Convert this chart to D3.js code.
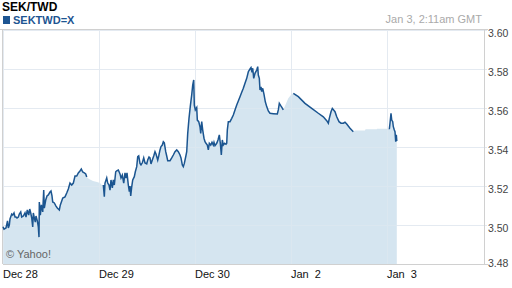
<!DOCTYPE html>
<html>
<head>
<meta charset="utf-8">
<script src="https://cdn.jsdelivr.net/npm/d3@7"></script>
<style>
  body { margin: 0; background: #fff; }
  svg { display: block; font-family: "Liberation Sans", Arial, sans-serif; }
</style>
</head>
<body>
<svg id="chart" width="512" height="288"></svg>
<script>
// hours since Dec 28 00:00 GMT, on a trading-day axis (weekend removed)
const hours = [
  0, 0.25, 0.75, 1.13, 1.33, 1.58, 1.75, 2.18, 2.43, 2.75, 3.0, 3.25, 3.5, 3.83, 4.08, 4.43, 4.68,
  5.08, 5.5, 5.75, 6.08, 6.43, 6.68, 6.93, 7.18, 7.43, 7.58, 7.83, 8.08, 8.25, 8.58, 8.83, 9.0,
  9.08, 9.33, 9.58, 9.93, 10.18, 10.33, 10.68, 11.0, 11.33, 11.75, 12.0, 12.25, 12.43, 12.83,
  13.25, 13.58, 14.08, 14.33, 14.68, 14.93, 15.5, 15.93, 16.33, 16.75, 17.18, 17.58, 18.0, 18.43,
  18.83, 19.25, 19.58, 19.93, 20.33, 20.68, 20.93,
  21.5, 22.5, 23.5, 24.25, 24.68,
  25.08, 25.33, 25.5, 25.93, 26.18, 26.5, 26.75, 27.0, 27.33, 27.58, 27.83, 28.18, 28.43, 28.83,
  29.25, 29.5, 29.83, 30.18, 30.5, 30.75, 31.0, 31.33, 31.58, 31.75, 31.93, 32.18, 32.43, 32.83,
  33.08, 33.43, 33.68, 33.93, 34.25, 34.5, 34.83, 35.18, 35.5, 35.93, 36.18, 36.5, 36.75, 37.0,
  37.33, 37.68, 38.0, 38.25, 38.68, 38.93, 39.25, 39.5, 39.83, 40.08, 40.33, 40.68, 40.93, 41.18,
  41.75, 42.18, 42.58, 43.0, 43.43, 43.83, 44.25, 44.5, 44.83, 45.08, 45.33, 45.68, 45.93, 46.18,
  46.5, 46.83, 47.18, 47.43, 47.68, 47.83, 48.08, 48.43, 48.58, 48.93, 49.25, 49.43, 49.68, 49.93,
  50.25, 50.5, 50.75, 51.08, 51.33, 51.58, 51.93, 52.25, 52.58, 52.75, 53.0, 53.43, 53.75, 54.08,
  54.33, 54.58, 54.83, 55.08, 55.43, 55.75, 55.93, 56.08, 56.33, 56.75, 57.18, 57.58, 58.0, 58.43,
  58.83, 59.25, 59.68, 60.08, 60.5, 60.93, 61.33, 61.75, 62.0, 62.25, 62.43, 62.68, 63.0, 63.43,
  63.68, 63.83, 64.08, 64.25, 64.5, 64.68, 64.93, 65.25, 65.58, 65.93, 66.33, 66.75, 67.58, 68.58,
  68.83, 69.08, 69.43, 69.75, 70.08,
  70.5, 71.33, 72.18,
  72.58, 73.83, 75.5, 77.18, 78.83, 80.08, 80.93, 81.33, 81.58, 82.0, 82.33, 83.0, 83.43, 84.0,
  84.5, 85.08, 85.5, 85.93, 86.75, 87.58,
  88.0, 90.5, 90.63, 93.43, 93.5, 96.25,
  96.58, 96.75, 97.0, 97.18, 97.43, 97.58, 97.83, 98.0, 98.18, 98.33, 98.45
];

const rates = [
  3.4991, 3.4979, 3.4985, 3.5021, 3.4985, 3.5000, 3.5031, 3.5056, 3.5051, 3.5062, 3.5041, 3.5041, 3.5036, 3.5041, 3.5056, 3.5067, 3.5041,
  3.5046, 3.5062, 3.5041, 3.5077, 3.5051, 3.5082, 3.5062, 3.5036, 3.4990, 3.5062, 3.5036, 3.5015, 3.5046, 3.5021, 3.4990, 3.4938,
  3.5118, 3.5051, 3.5103, 3.5067, 3.5179, 3.5087, 3.5128, 3.5149, 3.5154, 3.5169, 3.5174, 3.5149, 3.5118, 3.5113,
  3.5097, 3.5087, 3.5077, 3.5103, 3.5123, 3.5138, 3.5144, 3.5164, 3.5185, 3.5215, 3.5205, 3.5215, 3.5251, 3.5251,
  3.5267, 3.5277, 3.5287, 3.5272, 3.5267, 3.5262, 3.5246,
  3.5236, 3.5226, 3.5221, 3.5215, 3.5205,
  3.5205, 3.5145, 3.5215, 3.5241, 3.5215, 3.5205, 3.5179, 3.5231, 3.5190, 3.5231, 3.5205, 3.5273, 3.5278, 3.5282,
  3.5262, 3.5241, 3.5256, 3.5215, 3.5267, 3.5241, 3.5267, 3.5205, 3.5171, 3.5200, 3.5149, 3.5196, 3.5231, 3.5248,
  3.5273, 3.5299, 3.5350, 3.5354, 3.5316, 3.5308, 3.5319, 3.5344, 3.5318, 3.5313, 3.5333, 3.5349, 3.5344, 3.5313,
  3.5333, 3.5354, 3.5376, 3.5364, 3.5333, 3.5354, 3.5385, 3.5402, 3.5410, 3.5427, 3.5421, 3.5376, 3.5354, 3.5330,
  3.5330, 3.5344, 3.5359, 3.5376, 3.5385, 3.5376, 3.5359, 3.5344, 3.5308, 3.5299, 3.5316, 3.5350, 3.5376, 3.5470,
  3.5547, 3.5610, 3.5667, 3.5718, 3.5744, 3.5615, 3.5590, 3.5602, 3.5538, 3.5530, 3.5504, 3.5470, 3.5530, 3.5487,
  3.5445, 3.5427, 3.5419, 3.5410, 3.5385, 3.5419, 3.5410, 3.5424, 3.5410, 3.5424, 3.5407, 3.5419, 3.5436, 3.5462,
  3.5419, 3.5359, 3.5436, 3.5410, 3.5419, 3.5414, 3.5419, 3.5487, 3.5530, 3.5530, 3.5547, 3.5564, 3.5590, 3.5615,
  3.5636, 3.5658, 3.5681, 3.5701, 3.5727, 3.5752, 3.5786, 3.5800, 3.5807, 3.5783, 3.5804, 3.5752, 3.5778, 3.5795,
  3.5812, 3.5769, 3.5752, 3.5692, 3.5709, 3.5684, 3.5701, 3.5670, 3.5632, 3.5607, 3.5585, 3.5573, 3.5571, 3.5569,
  3.5590, 3.5624, 3.5612, 3.5602, 3.5590,
  3.5610, 3.5650, 3.5672,
  3.5675, 3.5658, 3.5624, 3.5598, 3.5573, 3.5555, 3.5535, 3.5522, 3.5547, 3.5581, 3.5598, 3.5581, 3.5555, 3.5530,
  3.5522, 3.5522, 3.5527, 3.5518, 3.5496, 3.5478,
  3.5484, 3.5484, 3.5491, 3.5491, 3.5494, 3.5494,
  3.5491, 3.5522, 3.5573, 3.5538, 3.5530, 3.5504, 3.5487, 3.5478, 3.5427, 3.5462, 3.5430
];

// stretches where the quote line is not drawn but the fill continues
const gaps = [[21.0, 25.0], [70.1, 72.5], [87.6, 96.5]];

const dayTicks = [0, 24, 48, 72, 96];
const dayLabels = ["Dec 28", "Dec 29", "Dec 30", "Jan  2", "Jan  3"];
const rateTicks = [3.48, 3.50, 3.52, 3.54, 3.56, 3.58, 3.60];

const svg = d3.select("#chart");
const plotLeft = 3, plotRight = 484, plotTop = 30, plotBottom = 264;

const x = d3.scaleLinear().domain([0, 120]).range([plotLeft, plotRight - 1]);
const y = d3.scaleLinear().domain([3.48, 3.60]).range([plotBottom, plotTop]);

const data = hours.map((h, i) => ({ h: h, v: rates[i] }));
const inGap = d => gaps.some(g => d.h > g[0] && d.h < g[1]);

// header
svg.append("text").attr("x", 2).attr("y", 11)
  .attr("font-size", 12).attr("font-weight", "bold").attr("fill", "#000")
  .text("SEK/TWD");
svg.append("rect").attr("x", 3).attr("y", 16).attr("width", 7).attr("height", 8)
  .attr("fill", "#1d5592");
svg.append("text").attr("x", 13).attr("y", 24)
  .attr("font-size", 11).attr("font-weight", "bold").attr("fill", "#1d5592")
  .text("SEKTWD=X");
svg.append("text").attr("x", 482).attr("y", 23).attr("text-anchor", "end")
  .attr("font-size", 11).attr("fill", "#aaa")
  .text("Jan 3, 2:11am GMT");

// grid
const grid = svg.append("g").attr("shape-rendering", "crispEdges");
grid.selectAll("line.h")
  .data(rateTicks)
  .join("line")
  .attr("class", "h")
  .attr("x1", plotLeft).attr("x2", plotRight + 3)
  .attr("y1", d => Math.round(y(d)) + 0.5).attr("y2", d => Math.round(y(d)) + 0.5)
  .attr("stroke", "#e4eaf1");
grid.selectAll("line.v")
  .data(dayTicks)
  .join("line")
  .attr("class", "v")
  .attr("x1", d => Math.round(x(d)) + 0.5).attr("x2", d => Math.round(x(d)) + 0.5)
  .attr("y1", plotTop).attr("y2", plotBottom)
  .attr("stroke", "#e4eaf1");

// area
svg.append("path")
  .datum(data)
  .attr("fill", "#d5e5f0")
  .attr("d", d3.area().x(d => x(d.h)).y0(plotBottom).y1(d => y(d.v)));

// re-draw grid over the fill, faintly
grid.clone(true).raise().attr("opacity", 0.45);

// frame
const frame = svg.append("g").attr("shape-rendering", "crispEdges").attr("stroke", "#d0d0d0");
frame.append("line").attr("x1", 0).attr("x2", plotRight + 4).attr("y1", plotTop - 0.5).attr("y2", plotTop - 0.5);
frame.append("line").attr("x1", plotLeft).attr("x2", plotRight + 4).attr("y1", plotBottom + 0.5).attr("y2", plotBottom + 0.5);
frame.append("line").attr("x1", plotRight + 0.5).attr("x2", plotRight + 0.5).attr("y1", plotTop).attr("y2", plotBottom);
frame.append("line").attr("x1", plotLeft - 0.5).attr("x2", plotLeft - 0.5).attr("y1", plotTop).attr("y2", plotBottom);

// quote line
svg.append("path")
  .datum(data)
  .attr("fill", "none")
  .attr("stroke", "#1b5590")
  .attr("stroke-width", 1.5)
  .attr("stroke-linejoin", "miter")
  .attr("d", d3.line().defined(d => !inGap(d)).x(d => x(d.h)).y(d => y(d.v)));

// axes labels
svg.append("g")
  .selectAll("text")
  .data(rateTicks)
  .join("text")
  .attr("x", plotRight + 4).attr("y", d => d === 3.48 ? y(d) + 3 : y(d) + 7)
  .attr("font-size", 10.5).attr("fill", "#444")
  .text(d => d.toFixed(2));

svg.append("g")
  .selectAll("text")
  .data(dayTicks)
  .join("text")
  .attr("x", d => x(d)).attr("y", 278)
  .attr("font-size", 11).attr("fill", "#111")
  .style("white-space", "pre")
  .text((d, i) => dayLabels[i]);

svg.append("text").attr("x", 6).attr("y", 258)
  .attr("font-size", 11).attr("fill", "#666")
  .text("© Yahoo!");
</script>
</body>
</html>
